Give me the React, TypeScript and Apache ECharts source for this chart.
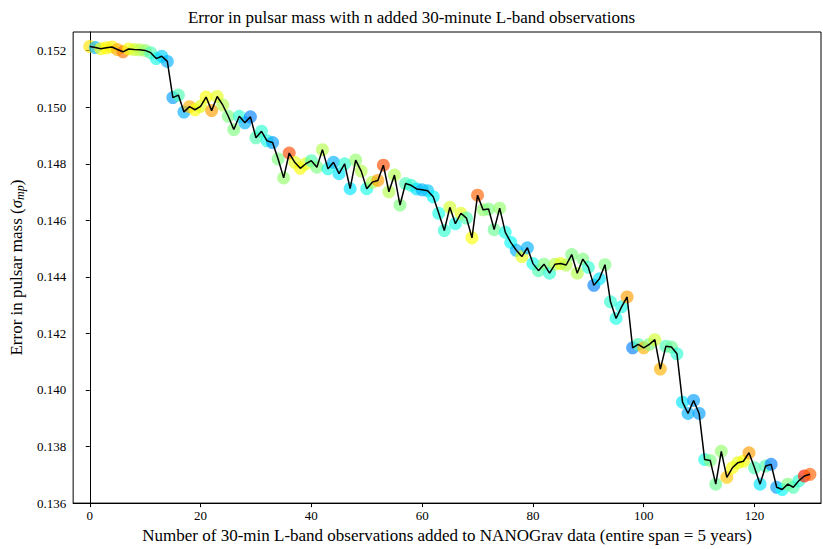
import React, { useEffect, useRef } from "react";
import * as echarts from "echarts";

// Error in pulsar mass after n added 30-minute L-band observations (n = 0..130)
const massError = [
  0.15215, 0.15211, 0.15207, 0.1521, 0.15213, 0.15204, 0.15196, 0.15206, 0.15204, 0.15203,
  0.15201, 0.15193, 0.15172, 0.1518, 0.15162, 0.15034, 0.15043, 0.14983, 0.15002, 0.14991,
  0.15003, 0.15036, 0.14988, 0.15038, 0.15008, 0.14968, 0.14921, 0.14968, 0.14945, 0.14966,
  0.14892, 0.14915, 0.14881, 0.14875, 0.14817, 0.1475, 0.14838, 0.14805, 0.14784, 0.148,
  0.14811, 0.14788, 0.1485, 0.14782, 0.14805, 0.14765, 0.148, 0.14712, 0.14813, 0.14774,
  0.14712, 0.14735, 0.14741, 0.14795, 0.14701, 0.1476, 0.14654, 0.1473, 0.14724, 0.14711,
  0.14708, 0.14705, 0.14683, 0.14625, 0.14564, 0.14646, 0.14588, 0.14625, 0.14608, 0.14538,
  0.14689, 0.14637, 0.1464, 0.14567, 0.14643, 0.14558, 0.14522, 0.14494, 0.14472, 0.14503,
  0.14447, 0.14422, 0.14445, 0.14413, 0.14445, 0.14447, 0.14442, 0.14479, 0.14413, 0.14463,
  0.14434, 0.1437, 0.14393, 0.14443, 0.14312, 0.14253, 0.14294, 0.14329, 0.14149, 0.14161,
  0.14149, 0.14161, 0.14178, 0.14074, 0.14155, 0.14152, 0.14128, 0.13957, 0.13917, 0.13963,
  0.13917, 0.13754, 0.13751, 0.13667, 0.13783, 0.13691, 0.13725, 0.13743, 0.13748, 0.13778,
  0.13725, 0.13667, 0.13731, 0.13737, 0.13656, 0.13648, 0.13667, 0.13656, 0.13679, 0.13696,
  0.13702,
];

// Colour-scale value of each observation's marker (0..1 on the jet map)
const markerShade = [
  0.65, 0.3, 0.62, 0.63, 0.64, 0.7, 0.76, 0.62, 0.58, 0.56,
  0.52, 0.45, 0.4, 0.33, 0.3, 0.28, 0.45, 0.3, 0.7, 0.62,
  0.6, 0.62, 0.72, 0.6, 0.55, 0.5, 0.5, 0.42, 0.3, 0.25,
  0.45, 0.42, 0.4, 0.28, 0.5, 0.52, 0.8, 0.6, 0.62, 0.6,
  0.45, 0.5, 0.55, 0.4, 0.3, 0.35, 0.42, 0.35, 0.52, 0.55,
  0.4, 0.55, 0.72, 0.8, 0.55, 0.55, 0.5, 0.45, 0.42, 0.35,
  0.3, 0.32, 0.38, 0.4, 0.42, 0.58, 0.4, 0.6, 0.45, 0.62,
  0.78, 0.52, 0.5, 0.48, 0.52, 0.4, 0.38, 0.3, 0.6, 0.3,
  0.4, 0.45, 0.5, 0.42, 0.55, 0.6, 0.55, 0.5, 0.55, 0.5,
  0.42, 0.25, 0.35, 0.5, 0.42, 0.4, 0.4, 0.72, 0.25, 0.45,
  0.7, 0.5, 0.58, 0.7, 0.45, 0.48, 0.42, 0.35, 0.3, 0.28,
  0.28, 0.4, 0.5, 0.48, 0.52, 0.68, 0.62, 0.6, 0.62, 0.72,
  0.45, 0.35, 0.45, 0.25, 0.28, 0.38, 0.5, 0.45, 0.42, 0.85,
  0.78,
];

const xTicks = [0, 20, 40, 60, 80, 100, 120];
const yTicks = [0.136, 0.138, 0.14, 0.142, 0.144, 0.146, 0.148, 0.15, 0.152];

const jet = [
  "#00007f", "#0000ff", "#007fff", "#00ffff", "#7fff7f",
  "#ffff00", "#ff7f00", "#ff0000", "#7f0000",
];

const SERIF = "'Liberation Serif', 'DejaVu Serif', serif";

export default function App() {
  const ref = useRef<HTMLDivElement>(null);

  useEffect(() => {
    if (!ref.current) return;
    const chart = echarts.init(ref.current, undefined, { renderer: "svg" });

    const points = massError.map((v, n) => [n, v, markerShade[n]]);
    const trace = massError.map((v, n) => [n, v]);

    const axisCommon = {
      axisLine: { show: true, lineStyle: { color: "#000", width: 1 } },
      splitLine: { show: false },
    };

    chart.setOption({
      animation: false,
      backgroundColor: "#fff",
      title: {
        text: "Error in pulsar mass with n added 30-minute L-band observations",
        left: "center",
        top: 4,
        textStyle: { fontFamily: SERIF, fontSize: 17, fontWeight: "normal", color: "#000" },
      },
      grid: {
        left: 70,
        right: 2,
        top: 32,
        bottom: 40,
        show: true,
        borderColor: "#000",
        borderWidth: 1,
        backgroundColor: "transparent",
      },
      visualMap: {
        show: false,
        type: "continuous",
        seriesIndex: 0,
        dimension: 2,
        min: 0,
        max: 1,
        inRange: { color: jet },
      },
      xAxis: {
        type: "value",
        min: -3,
        max: 132,
        ...axisCommon,
        axisTick: {
          show: true,
          customValues: xTicks,
          length: 4,
          lineStyle: { color: "#000" },
        },
        axisLabel: {
          customValues: xTicks,
          color: "#000",
          fontFamily: SERIF,
          fontSize: 13,
          margin: 6,
          formatter: (v: number) => String(v),
        },
        name: "Number of 30-min L-band observations added to NANOGrav data (entire span = 5 years)",
        nameLocation: "middle",
        nameGap: 22,
        nameTextStyle: { fontFamily: SERIF, fontSize: 17, color: "#000" },
      },
      yAxis: {
        type: "value",
        min: 0.136,
        max: 0.15266,
        ...axisCommon,
        axisTick: {
          show: true,
          customValues: yTicks,
          length: 4,
          lineStyle: { color: "#000" },
        },
        axisLabel: {
          customValues: yTicks,
          color: "#000",
          fontFamily: SERIF,
          fontSize: 13,
          margin: 7,
          formatter: (v: number) => v.toFixed(3),
        },
        name: "Error in pulsar mass ({s|σ}{sub|mp})",
        nameLocation: "middle",
        nameRotate: 90,
        nameGap: 43,
        nameTextStyle: {
          fontFamily: SERIF,
          fontSize: 17,
          color: "#000",
          rich: {
            s: { fontFamily: SERIF, fontSize: 17, fontStyle: "italic", color: "#000" },
            sub: {
              fontFamily: SERIF,
              fontSize: 12,
              fontStyle: "italic",
              color: "#000",
              padding: [7, 0, 0, 0],
            },
          },
        },
      },
      series: [
        {
          type: "scatter",
          data: points,
          symbolSize: 13,
          itemStyle: { opacity: 0.65 },
          z: 2,
        },
        {
          type: "line",
          data: trace,
          showSymbol: false,
          lineStyle: { color: "#000", width: 1.5 },
          z: 3,
        },
      ],
    });

    return () => chart.dispose();
  }, []);

  return (
    <div
      ref={ref}
      style={{ position: "fixed", left: 0, top: 0, width: 823, height: 549, background: "#fff" }}
    />
  );
}
